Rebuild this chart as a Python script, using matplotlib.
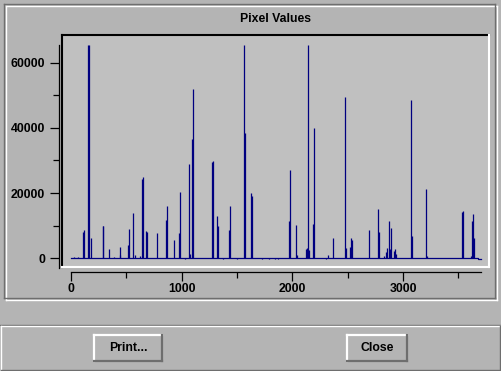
import matplotlib
matplotlib.use("Agg")
import matplotlib.pyplot as plt
from matplotlib.lines import Line2D
from matplotlib.patches import Rectangle

# pixel index along the scan line and the value of each spike
spike_x = [30, 60, 111, 120, 155, 163, 178, 286, 292, 346, 391, 440, 446,
           518, 527, 563, 575, 620, 644, 653, 680, 689, 780, 861, 870,
           930, 978, 987, 1033, 1069, 1078, 1096, 1105, 1276, 1285, 1322,
           1330, 1370, 1430, 1439, 1497, 1565, 1574, 1629, 1638, 1730,
           1790, 1840, 1870, 1972, 1981, 2035, 2044, 2126, 2135, 2144,
           2153, 2189, 2198, 2306, 2324, 2370, 2478, 2487, 2523, 2532,
           2541, 2695, 2776, 2785, 2830, 2848, 2857, 2875, 2884, 2893,
           2920, 2929, 2938, 3074, 3083, 3209, 3218, 3535, 3544, 3616,
           3625, 3634, 3643]
spike_y = [300, 300, 8000, 8600, 65535, 65535, 6150, 9850, 9850, 2770, 400,
           800, 3380, 4000, 8900, 13850, 900, 700, 24300, 24900, 8300, 8000,
           7700, 11700, 16000, 5540, 7700, 20300, -300, 28900, 1200, 36600,
           52000, 29540, 29850, 12900, 9850, -300, 8600, 16000, -300, 65535,
           38460, 20000, 19080, -300, -300, -300, -300, 11400, 27100, 10150,
           900, 2770, 3080, 65535, 2460, 10460, 40000, -400, 800, 6150,
           49500, 3080, 3380, 6150, 5540, 8600, 15080, 8000, 600, 1850, 3080,
           11400, 2770, 9230, 2150, 2770, 1230, 48600, 6770, 21200, 600,
           14150, 14460, 600, 11400, 13540, 6150]

# baseline of the trace, with the small drop at the very end
base_x = [0, 3680, 3680, 3701]
base_y = [0, 0, -400, -400]

x_major = [0, 1000, 2000, 3000]
x_minor = [500, 1500, 2500, 3500]
y_major = [0, 20000, 40000, 60000]
y_minor = [10000, 30000, 50000]

W, H = 502, 371
BG = "#b4b4b4"
PLOT_BG = "#c0c0c0"
SHADOW = "#6e6e6e"
NAVY = "#000080"
FONT = dict(family="Liberation Sans", weight="bold", size=8.8)


def fx(x):
    return x / W


def fy(y):
    return 1 - y / H


def hline(fig, x0, x1, y, color, lw=1.0):
    fig.add_artist(Line2D([fx(x0), fx(x1)], [fy(y), fy(y)],
                          transform=fig.transFigure, color=color, lw=lw))


def vline(fig, x, y0, y1, color, lw=1.0):
    fig.add_artist(Line2D([fx(x), fx(x)], [fy(y0), fy(y1)],
                          transform=fig.transFigure, color=color, lw=lw))


def box(fig, x0, y0, x1, y1, light, dark, lw=1.0):
    hline(fig, x0, x1, y0, light, lw)
    vline(fig, x0, y0, y1, light, lw)
    hline(fig, x0, x1, y1, dark, lw)
    vline(fig, x1, y0, y1, dark, lw)


def button(fig, x0, y0, x1, y1, label):
    box(fig, x0, y0, x1, y1, "white", SHADOW, lw=1.6)
    fig.text(fx((x0 + x1) / 2), fy((y0 + y1) / 2), label,
             ha="center", va="center", color="black", **FONT)


def main():
    fig = plt.figure(figsize=(W / 100, H / 100), dpi=100, facecolor=BG)

    # etched frame around the plot panel
    box(fig, 6, 6, 497, 300, "white", "white")
    box(fig, 4, 4, 495, 298, SHADOW, SHADOW)

    fig.text(fx(276), fy(19), "Pixel Values", ha="center", va="center",
             color="black", **FONT)

    ax = fig.add_axes([fx(62), fy(267), fx(489) - fx(62), fy(35) - fy(267)])
    ax.set_facecolor(PLOT_BG)
    ax.vlines(spike_x, 0, spike_y, color=NAVY, lw=0.9)
    ax.plot(base_x, base_y, color=NAVY, lw=0.9)
    ax.set_xlim(-81, 3777)
    ax.set_ylim(-2769, 68615)

    for side in ("top", "right"):
        ax.spines[side].set_visible(False)
    ax.spines["left"].set_position(("outward", 2.2))
    ax.spines["bottom"].set_position(("outward", 3.6))
    ax.spines["left"].set_bounds(-3077, 65535)
    ax.spines["bottom"].set_bounds(0, 3704)
    for side in ("left", "bottom"):
        ax.spines[side].set_linewidth(0.9)

    ax.set_xticks(x_major)
    ax.set_xticks(x_minor, minor=True)
    ax.set_yticks(y_major)
    ax.set_yticks(y_minor, minor=True)
    ax.tick_params(which="major", length=6.5, width=0.9, direction="out")
    ax.tick_params(which="minor", length=4, width=0.9, direction="out")
    ax.tick_params(axis="y", which="major", pad=3.6)
    ax.tick_params(axis="x", which="major", pad=1.5)
    for lab in ax.get_xticklabels() + ax.get_yticklabels():
        lab.set_fontfamily(FONT["family"])
        lab.set_fontweight(FONT["weight"])
        lab.set_fontsize(FONT["size"])

    # sunken border of the plot box
    hline(fig, 62, 489, 35, "black", 1.5)
    vline(fig, 62, 35, 267, "black", 1.5)
    hline(fig, 62, 489, 267, "white", 1.5)
    vline(fig, 489, 35, 267, "white", 1.5)

    # action area with the two buttons
    hline(fig, 0, 502, 324.5, SHADOW)
    box(fig, 1, 326, 500.5, 369.5, "white", SHADOW)
    fig.add_artist(Rectangle((fx(94), fy(361)), fx(162) - fx(94),
                             fy(335) - fy(361), transform=fig.transFigure,
                             facecolor=BG, edgecolor="none"))
    button(fig, 94, 335, 162, 361, "Print...")
    button(fig, 347, 335, 407, 361, "Close")

    fig.savefig("out.png", dpi=100, facecolor=BG)


if __name__ == "__main__":
    main()
